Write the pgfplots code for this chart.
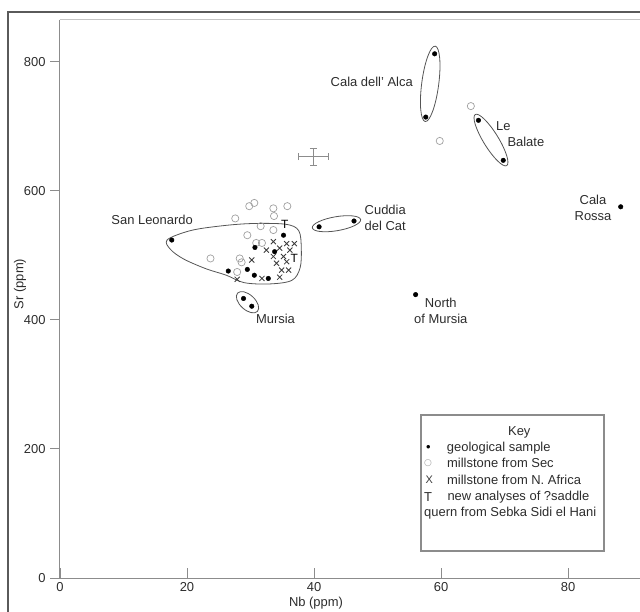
\documentclass[border=0pt]{standalone}
\usepackage{pgfplots}
\pgfplotsset{compat=1.18}
\usepackage{fontspec}
\setmainfont{Liberation Sans}
\newfontfamily\dejavu{DejaVu Sans}
\definecolor{txt}{HTML}{2C2C2C}
\definecolor{axgray}{HTML}{8C8C8C}
\definecolor{topgray}{HTML}{C4C4C4}
\definecolor{framegray}{HTML}{5A5A5A}
\definecolor{secgray}{HTML}{A0A0A0}
\definecolor{afr}{HTML}{3C3C3C}
\definecolor{env}{HTML}{555555}

\begin{document}
\fontsize{13}{16}\selectfont
\begin{tikzpicture}[x=1bp,y=1bp]
\useasboundingbox (-60,-34) rectangle (580,578);
\draw[framegray, line width=1.6bp] (-52,-80) rectangle (640,566);

\begin{axis}[
    at={(0,0)}, anchor=south west,
    scale only axis,
    width=580bp, height=558.4bp,
    xmin=0, xmax=91.34, ymin=0, ymax=865,
    axis line style={draw=none},
    xtick={0,20,40,60,80},
    ytick={0,200,400,600,800},
    tick pos=left,
    tick align=inside,
    major tick length=9.5bp,
    every tick/.style={axgray, line width=0.8bp},
    y tick style={xshift=-9.5bp},
    ticklabel style={text=txt},
    yticklabel style={xshift=-10bp},
    /pgf/number format/assume math mode=true,
    clip=false,
]
% axis lines
\draw[axgray, line width=1bp] (axis cs:0,865) -- (axis cs:0,0) -- (axis cs:91.34,0);
\draw[topgray, line width=1.6bp] (axis cs:0,865) -- (axis cs:91.34,865);

% envelopes
\draw[env, line width=0.8bp] plot[smooth cycle, tension=0.55] coordinates {
    (16.9,524) (20.5,538) (25,545) (30,549) (35.5,548) (37.6,538)
    (38,510) (37.8,480) (36.5,461) (33,455.5) (29,457.5) (26.2,469)
    (23,479) (19.5,494) (17.4,509)};
\draw[env, line width=0.8bp, rotate around={82.5:(axis cs:58.3,765.5)}]
    (axis cs:58.3,765.5) ellipse [x radius=38bp, y radius=8.5bp];
\draw[env, line width=0.8bp, rotate around={121.6:(axis cs:67.87,678.4)}]
    (axis cs:67.87,678.4) ellipse [x radius=30bp, y radius=7.5bp];
\draw[env, line width=0.8bp, rotate around={9.7:(axis cs:43.54,548.8)}]
    (axis cs:43.54,548.8) ellipse [x radius=24.5bp, y radius=7bp];
\draw[env, line width=0.8bp, rotate around={-42.5:(axis cs:29.53,427.2)}]
    (axis cs:29.53,427.2) ellipse [x radius=13.5bp, y radius=7.5bp];

% analytical error cross
\addplot[axgray, line width=0.8bp, mark=none,
    error bars/.cd, x dir=both, y dir=both, x explicit, y explicit,
    error mark=-,
    error bar style={axgray, line width=0.8bp},
    error mark options={rotate=90, axgray, mark size=3.5bp, line width=0.8bp}]
coordinates {(39.9,652.6) +- (2.35,13)};

% millstones from Sec (open circles)
\addplot[only marks, mark=o, mark size=3.6bp, secgray, line width=0.7bp]
coordinates {
(27.6,557) (23.7,495) (28.3,495) (28.6,489) (27.9,474)
(30.6,581) (29.8,576) (33.6,572.6) (35.8,576) (33.7,560.7)
(31.6,545) (33.6,539) (29.5,531) (30.9,519) (31.8,519)
(64.7,731) (59.8,677)};

% millstones from N. Africa (x)
\addplot[only marks, mark=x, mark size=3.6bp, afr, line width=0.85bp]
coordinates {
(33.6,521) (35.7,518) (36.9,518) (32.5,508) (34.6,511) (36.2,508)
(33.6,498) (35.2,498) (34.1,487.5) (35.7,490) (34.9,477) (36,477)
(34.6,466) (30.2,492.6) (31.8,464) (27.9,462.7)};

% new analyses (T)
\addplot[only marks, mark=text, text mark={\fontsize{12}{12}\selectfont T}, afr]
coordinates {(35.4,547) (36.9,495)};

% geological samples (dots)
\addplot[only marks, mark=*, mark size=2.3bp, black]
coordinates {
(17.6,523.5) (26.5,475.5) (30.7,512) (33.8,505.5) (35.2,531)
(29.5,478) (30.6,469) (32.8,464) (28.9,433) (30.2,421)
(40.8,544) (46.3,553) (56.0,439) (57.6,714) (59.0,812)
(65.9,709) (69.8,647) (88.3,575)};
\end{axis}

% axis titles
\node[txt, rotate=90] at (-40,294) {Sr (ppm)};
\node[txt] at (256,-25) {Nb (ppm)};

% locality labels
\node[txt, anchor=east, inner sep=0] at (133,358) {San Leonardo};
\node[txt, inner sep=0] at (215.5,259) {Mursia};
\node[txt, anchor=east, inner sep=0] at (353,496.3) {Cala dell' Alca};
\node[txt, anchor=west, inner sep=0] at (436,452) {Le};
\node[txt, anchor=west, inner sep=0] at (447.3,435.7) {Balate};
\node[txt, anchor=west, inner sep=0, align=left] at (304.5,360) {Cuddia\\del Cat};
\node[txt, inner sep=0, align=center] at (533,370) {Cala\\Rossa};
\node[txt, inner sep=0, align=center] at (380.8,267.5) {North\\of Mursia};

% key
\draw[axgray, line width=1.1bp] (361,27) rectangle (544,163);
\node[txt, inner sep=0] at (459.3,145.7) {Key};
\node[black, inner sep=0] at (368.3,129.7) {•};
\node[secgray, inner sep=0] at (368,114.7) {\dejavu\fontsize{9}{9}\selectfont ○};
\node[afr, inner sep=0] at (369.3,98) {\fontsize{11}{11}\selectfont X};
\node[txt, inner sep=0] at (368,81.3) {T};
\node[txt, anchor=west, inner sep=0] at (386.7,129.7) {geological sample};
\node[txt, anchor=west, inner sep=0] at (387,114.7) {millstone from Sec};
\node[txt, anchor=west, inner sep=0] at (387,98) {millstone from N. Africa};
\node[txt, anchor=west, inner sep=0] at (387.3,81.3) {new analyses of ?saddle};
\node[txt, anchor=west, inner sep=0] at (364,64.7) {quern from Sebka Sidi el Hani};
\end{tikzpicture}
\end{document}
